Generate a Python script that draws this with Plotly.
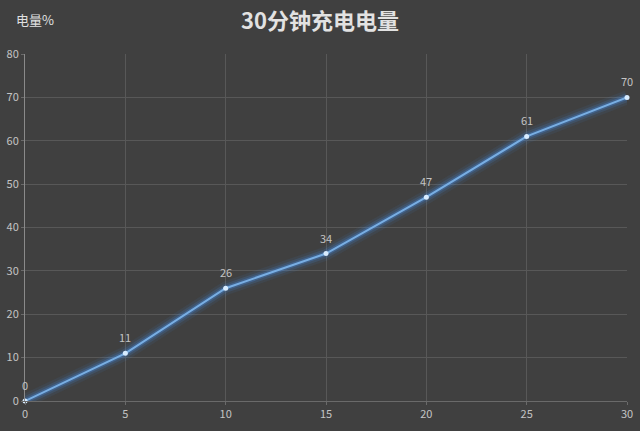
import plotly.graph_objects as go

# data
minutes = [0, 5, 10, 15, 20, 25, 30]
charge = [0, 11, 26, 34, 47, 61, 70]
x_ticks = [0, 5, 10, 15, 20, 25, 30]
y_ticks = [0, 10, 20, 30, 40, 50, 60, 70, 80]

bg = "#404040"
grid = "#585858"
txt = "#c4c4c4"
line_col = "#78aee3"

fig = go.Figure()

# soft glow under the line
for w, a in [(14, 0.08), (9, 0.16), (5, 0.30)]:
    fig.add_trace(go.Scatter(x=minutes, y=charge, mode="lines",
                             line=dict(color=f"rgba(70,140,230,{a})", width=w),
                             hoverinfo="skip", showlegend=False))

fig.add_trace(go.Scatter(x=minutes, y=charge, mode="lines+markers",
                         line=dict(color=line_col, width=2),
                         marker=dict(color="#d8ecff", size=5),
                         cliponaxis=False, showlegend=False))

# value labels sit a bit higher above the points than plotly's default
labels = [dict(x=m, y=c, text=str(c), showarrow=False, yshift=16,
               font=dict(color=txt, size=11)) for m, c in zip(minutes, charge)]

fig.update_xaxes(range=[0, 30], tickvals=x_ticks, showgrid=True, gridcolor=grid,
                 gridwidth=1, zeroline=False, showline=True, linecolor="#6a6a6a",
                 ticks="outside", ticklen=3, tickcolor="#6a6a6a", automargin=False,
                 tickfont=dict(color=txt, size=11))
fig.update_yaxes(range=[0, 80], tickvals=y_ticks, showgrid=True, gridcolor=grid,
                 gridwidth=1, zeroline=False, showline=True, linecolor="#8a8a8a",
                 ticks="outside", ticklen=3, tickcolor="#6a6a6a", automargin=False,
                 tickfont=dict(color=txt, size=11))

fig.update_layout(
    width=640, height=431,
    paper_bgcolor=bg, plot_bgcolor=bg,
    margin=dict(l=25, r=13, t=54, b=30),
    font=dict(family="Noto Sans CJK SC", color=txt),
    title=dict(text="<b>30分钟充电电量</b>", x=0.5, xanchor="center", y=0.95, yanchor="middle",
               font=dict(size=22, color="#e2e2e2", family="Noto Sans CJK SC")),
    annotations=labels + [dict(text="电量%", xref="paper", yref="paper", x=-0.018, y=1.1,
                               xanchor="left", yanchor="middle", showarrow=False,
                               font=dict(size=13, color="#e0e0e0"))],
)

fig.write_html("out.html", config={"displayModeBar": False},
               post_script="document.body.style.margin='0';")
